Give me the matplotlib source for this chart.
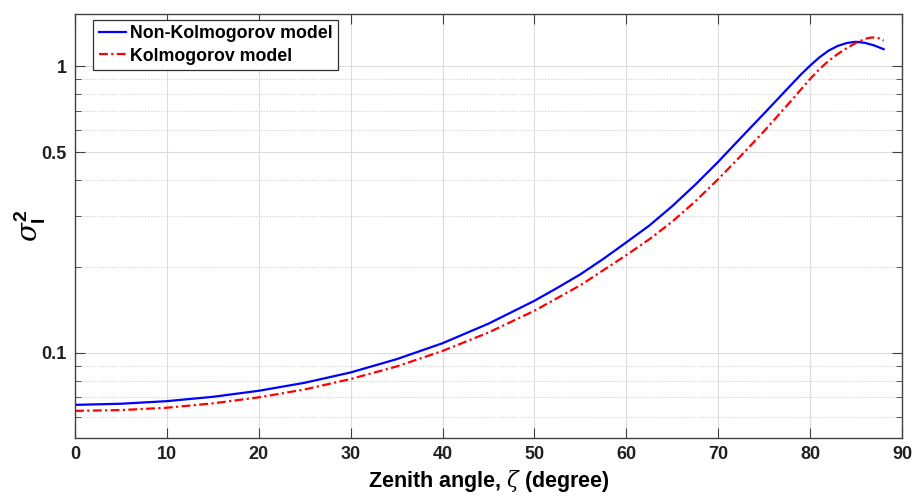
import matplotlib
matplotlib.use("Agg")
import matplotlib.pyplot as plt
from matplotlib.ticker import FixedLocator, NullFormatter

plt.rcParams["font.family"] = ["Liberation Sans", "DejaVu Sans"]
plt.rcParams["mathtext.fontset"] = "custom"
plt.rcParams["mathtext.rm"] = "Liberation Sans"
plt.rcParams["mathtext.bf"] = "Liberation Sans:bold"
plt.rcParams["mathtext.it"] = "DejaVu Serif:italic"

# zenith angle (degree) and scintillation index, Non-Kolmogorov model
zen_non = [0, 5, 10, 15, 20, 25, 30, 35, 40, 45, 50, 52.5, 55, 57.5, 60,
           62.5, 65, 67.5, 70, 72.5, 75, 77.5, 79, 80, 81, 82, 83, 84, 85,
           86, 87, 88]
sig_non = [0.0659, 0.0665, 0.0679, 0.0703, 0.0738, 0.0787, 0.0855, 0.0951,
           0.1081, 0.1265, 0.152, 0.1687, 0.188, 0.2128, 0.243,
           0.278, 0.325, 0.386, 0.464, 0.564, 0.684, 0.832, 0.935, 1.004,
           1.072, 1.132, 1.176, 1.204, 1.216, 1.205, 1.180, 1.146]

# zenith angle (degree) and scintillation index, Kolmogorov model
zen_kol = [0, 5, 10, 15, 20, 25, 30, 35, 40, 45, 50, 55, 60, 62.5, 65,
           67.5, 70, 72.5, 75, 77.5, 80, 81, 82, 83, 84, 85, 86, 86.5, 87,
           87.5, 88]
sig_kol = [0.0628, 0.0632, 0.0644, 0.0667, 0.0700, 0.0746, 0.0811, 0.0897,
           0.1016, 0.1178, 0.1403, 0.1722, 0.2193, 0.249, 0.287,
           0.3376, 0.4036, 0.488, 0.5935, 0.730, 0.902, 0.975, 1.042, 1.102,
           1.156, 1.205, 1.245, 1.256, 1.259, 1.250, 1.227]

xticks = [0, 10, 20, 30, 40, 50, 60, 70, 80, 90]
yticks = [0.1, 0.5, 1]
ytick_labels = ["0.1", "0.5", "1"]
yminor = [0.06, 0.07, 0.08, 0.09, 0.2, 0.3, 0.4, 0.6, 0.7, 0.8, 0.9]

fig = plt.figure(figsize=(9.16, 4.99), dpi=100)
ax = fig.add_axes([0.0819, 0.1222, 0.9028, 0.8498])

ax.plot(zen_non, sig_non, color="#0000ff", lw=1.6, ls="-",
        label="Non-Kolmogorov model")
ax.plot(zen_kol, sig_kol, color="#ff0000", lw=1.6, ls=(0, (4, 1.5, 1, 1.5)),
        label="Kolmogorov model")

ax.set_yscale("log")
ax.set_xlim(0, 90)
ax.set_ylim(0.0505, 1.52)
ax.set_xticks(xticks)
ax.yaxis.set_major_locator(FixedLocator(yticks))
ax.set_yticklabels(ytick_labels)
ax.yaxis.set_minor_locator(FixedLocator(yminor))
ax.yaxis.set_minor_formatter(NullFormatter())

ax.grid(True, which="major", color="#dcdcdc", lw=0.8, ls="-")
ax.grid(True, which="minor", axis="y", color="#d0d0d0", lw=0.8, ls=(0, (1, 1.5)))
ax.set_axisbelow(True)

ax.tick_params(which="both", direction="in", top=True, right=True,
               color="#404040", labelsize=13, pad=6)
ax.tick_params(which="major", length=7)
ax.tick_params(which="minor", length=4)
for lab in ax.get_xticklabels() + ax.get_yticklabels():
    lab.set_fontweight("bold")
    lab.set_color("#202020")
for sp in ax.spines.values():
    sp.set_color("#404040")
    sp.set_linewidth(1.0)

ax.set_xlabel(r"Zenith angle, $\zeta$ (degree)", fontsize=15.5,
              fontweight="bold", labelpad=3)
ax.set_ylabel(r"$\sigma^{\mathbf{2}}_{\mathbf{I}}$", fontsize=20, labelpad=0)
ax.yaxis.set_label_coords(-0.033, 0.5)

leg = ax.legend(loc="upper left", bbox_to_anchor=(0.022, 0.986),
                prop={"weight": "bold", "size": 12.8}, handlelength=1.55,
                handletextpad=0.2, borderpad=0.3, labelspacing=0.3,
                fancybox=False, framealpha=1, borderaxespad=0)
leg.get_frame().set_edgecolor("#303030")
leg.get_frame().set_linewidth(0.9)

fig.savefig("out.png", dpi=100)
